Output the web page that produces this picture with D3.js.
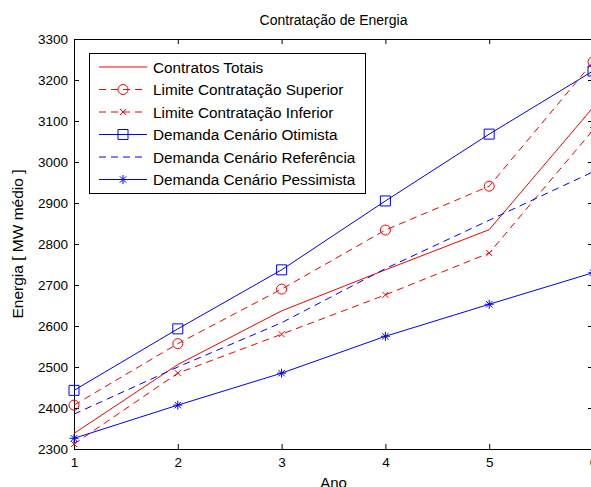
<!DOCTYPE html>
<html>
<head>
<meta charset="utf-8">
<script src="https://cdn.jsdelivr.net/npm/d3@7"></script>
<style>
body { margin: 0; background: #fff; }
text { font-family: "Liberation Sans", Arial, sans-serif; }
</style>
</head>
<body>
<div id="container"></div>
<script>
let width = 591;
let height = 487;

// data
let anos = [1, 2, 3, 4, 5, 6];
let contratosTotais = [2338, 2506, 2637, 2737, 2835, 3133];
let limiteSuperior = [2407, 2557, 2690, 2834, 2941, 3244];
let limiteInferior = [2312, 2485, 2580, 2676, 2778, 3078];
let demandaOtimista = [2443, 2593, 2737, 2905, 3068, 3222];
let demandaReferencia = [2385, 2500, 2608, 2740, 2858, 2976];
let demandaPessimista = [2326, 2407, 2485, 2575, 2653, 2730];
let yTicks = [2300, 2400, 2500, 2600, 2700, 2800, 2900, 3000, 3100, 3200, 3300];

let series = [
    { name: 'Contratos Totais', values: contratosTotais, color: '#ff0000', dash: null, marker: null },
    { name: 'Limite Contratação Superior', values: limiteSuperior, color: '#ff0000', dash: '7,5', marker: 'circle' },
    { name: 'Limite Contratação Inferior', values: limiteInferior, color: '#ff0000', dash: '7,5', marker: 'x' },
    { name: 'Demanda Cenário Otimista', values: demandaOtimista, color: '#0000ff', dash: null, marker: 'square' },
    { name: 'Demanda Cenário Referência', values: demandaReferencia, color: '#0000ff', dash: '7,5', marker: null },
    { name: 'Demanda Cenário Pessimista', values: demandaPessimista, color: '#0000ff', dash: null, marker: 'star' }
];

let plotLeft = 74, plotRight = 593, plotTop = 39, plotBottom = 449;

let svg = d3.select("#container")
    .append("svg")
    .attr("width", width)
    .attr("height", height);

let x = d3.scaleLinear().domain([1, 6]).range([plotLeft, plotRight]);
let y = d3.scaleLinear().domain([2300, 3300]).range([plotBottom, plotTop]);

function markerPath(m) {
    if (m == 'x') return 'M-3,-3L3,3M-3,3L3,-3';
    if (m == 'star') return 'M-4.5,0H4.5M0,-4.5V4.5M-3.2,-3.2L3.2,3.2M-3.2,3.2L3.2,-3.2';
    if (m == 'square') return 'M-5,-5H5V5H-5Z';
    if (m == 'circle') return 'M5,0A5,5 0 1,1 -5,0A5,5 0 1,1 5,0Z';
    return null;
}

// axes (ticks inward, box on)
svg.append('g')
    .attr('transform', `translate(0,${plotBottom})`)
    .call(d3.axisBottom(x).ticks(6).tickFormat(d3.format('d')).tickSizeInner(-5).tickSizeOuter(0).tickPadding(8));
svg.append('g')
    .attr('transform', `translate(0,${plotTop})`)
    .call(d3.axisTop(x).ticks(6).tickFormat('').tickSizeInner(-5).tickSizeOuter(0));
svg.append('g')
    .attr('transform', `translate(${plotLeft},0)`)
    .call(d3.axisLeft(y).tickValues(yTicks).tickFormat(d3.format('d')).tickSizeInner(-5).tickSizeOuter(0).tickPadding(6));
svg.append('g')
    .attr('transform', `translate(${plotRight},0)`)
    .call(d3.axisRight(y).tickValues(yTicks).tickFormat('').tickSizeInner(-5).tickSizeOuter(0));

svg.selectAll('.domain').attr('stroke', '#000');
svg.selectAll('.tick line').attr('stroke', '#000');
svg.selectAll('.tick text')
    .attr('font-size', 13.5)
    .attr('fill', '#000')
    .attr('font-family', '"Liberation Sans", Arial, sans-serif');

// lines
let line = d3.line()
    .x((d, i) => x(anos[i]))
    .y(d => y(d));

series.forEach((s) => {
    svg.append('path')
        .datum(s.values)
        .attr('d', line)
        .attr('fill', 'none')
        .attr('stroke', s.color)
        .attr('stroke-width', 1)
        .attr('stroke-dasharray', s.dash);

    if (s.marker) {
        svg.selectAll(null)
            .data(s.values)
            .enter()
            .append('path')
            .attr('transform', (d, i) => `translate(${x(anos[i])},${y(d)})`)
            .attr('d', markerPath(s.marker))
            .attr('fill', 'none')
            .attr('stroke', s.color)
            .attr('stroke-width', 1);
    }
});

// title and labels
svg.append('text')
    .attr('x', (plotLeft + plotRight) / 2)
    .attr('y', 25)
    .attr('text-anchor', 'middle')
    .attr('font-size', 14)
    .text('Contratação de Energia');

svg.append('text')
    .attr('x', (plotLeft + plotRight) / 2)
    .attr('y', 488)
    .attr('text-anchor', 'middle')
    .attr('font-size', 15)
    .text('Ano');

svg.append('text')
    .attr('transform', `translate(23,${(plotTop + plotBottom) / 2}) rotate(-90)`)
    .attr('text-anchor', 'middle')
    .attr('font-size', 15.5)
    .text('Energia [ MW médio ]');

// legend
let legend = svg.append('g');
legend.append('rect')
    .attr('x', 89.5)
    .attr('y', 53.5)
    .attr('width', 276)
    .attr('height', 140)
    .attr('fill', '#fff')
    .attr('stroke', '#000');

let rowH = 22.5;
series.forEach((s, i) => {
    let ly = 67 + i * rowH;
    legend.append('line')
        .attr('x1', 99)
        .attr('x2', 147)
        .attr('y1', ly)
        .attr('y2', ly)
        .attr('stroke', s.color)
        .attr('stroke-dasharray', s.dash);
    if (s.marker) {
        legend.append('path')
            .attr('transform', `translate(123,${ly})`)
            .attr('d', markerPath(s.marker))
            .attr('fill', 'none')
            .attr('stroke', s.color);
    }
    legend.append('text')
        .attr('x', 153)
        .attr('y', ly + 5.5)
        .attr('font-size', 15.3)
        .text(s.name);
});
</script>
</body>
</html>
